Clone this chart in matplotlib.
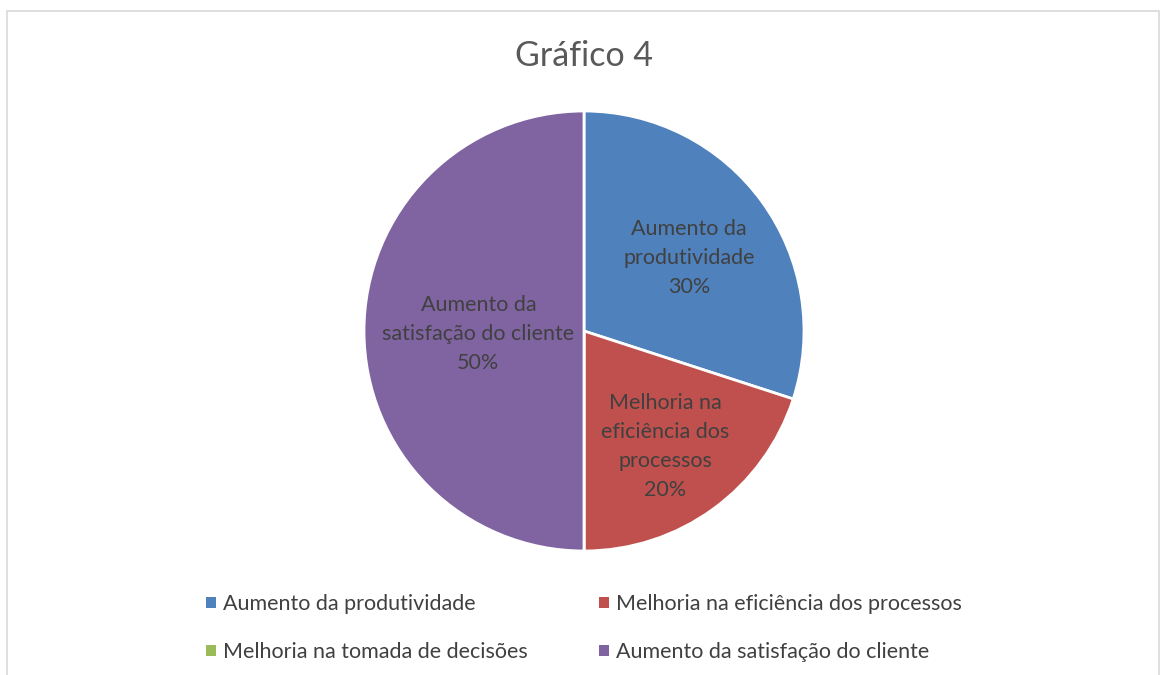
import numpy as np
import matplotlib.pyplot as plt
from matplotlib.patches import Rectangle, Patch

plt.rcParams['font.family'] = ['Lato', 'DejaVu Sans']

categories = ['Aumento da produtividade', 'Melhoria na eficiência dos processos',
              'Melhoria na tomada de decisões', 'Aumento da satisfação do cliente']
values = [30, 20, 0, 50]
slice_labels = ['Aumento da\nprodutividade', 'Melhoria na\neficiência dos\nprocessos',
                '', 'Aumento da\nsatisfação do cliente']
colors = ['#4F81BD', '#C0504D', '#9BBB59', '#8064A2']
label_dist = [0.59, 0.63, 0.6, 0.48]
text_color = '#404040'

fig = plt.figure(figsize=(11.6, 6.75), dpi=100)

# chart border (bottom edge runs off the image)
fig.patches.append(Rectangle((7 / 1160, -0.1), 1152 / 1160, 1.1 - 11 / 675,
                             transform=fig.transFigure, fill=False,
                             edgecolor='#D9D9D9', linewidth=1.2))

ax = fig.add_axes([364 / 1160, 124 / 675, 440 / 1160, 440 / 675])
wedges, _ = ax.pie(values, colors=colors, startangle=90, counterclock=False,
                   radius=1, wedgeprops=dict(edgecolor='white', linewidth=2))
ax.set_xlim(-1, 1)
ax.set_ylim(-1, 1)
ax.set_aspect('equal')
ax.axis('off')

for w, lab, v, d in zip(wedges, slice_labels, values, label_dist):
    if v == 0:
        continue
    ang = np.deg2rad((w.theta1 + w.theta2) / 2)
    ax.text(d * np.cos(ang), d * np.sin(ang) - 0.015, f'{lab}\n{v}%', ha='center', va='center',
            fontsize=15.5, color=text_color, linespacing=1.55)

fig.text(584 / 1160, 1 - 56 / 675, 'Gráfico 4', ha='center', va='center',
         fontsize=24.5, color='#595959')

# legend fills row by row like Excel
order = [0, 2, 1, 3]
handles = [Patch(facecolor=colors[i], edgecolor='none') for i in order]
labels = [categories[i] for i in order]
fig.legend(handles, labels, ncol=2, loc='center', bbox_to_anchor=(584 / 1160, 1 - 628 / 675),
           frameon=False, fontsize=15.5, labelcolor=text_color, handlelength=0.45,
           handleheight=0.45, handletextpad=0.35, columnspacing=3.3, labelspacing=1.3)

fig.savefig('out.png', dpi=100, facecolor='white')
